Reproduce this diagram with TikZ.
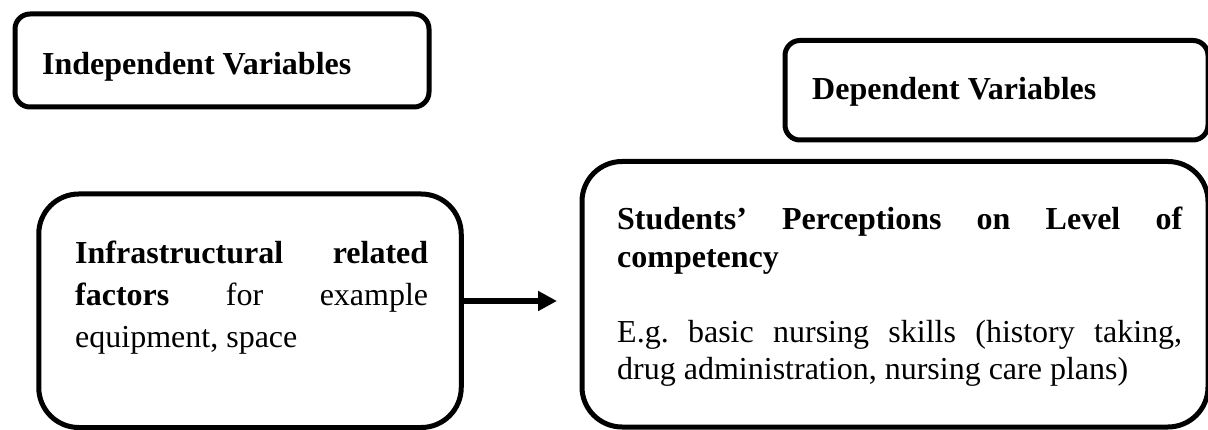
\documentclass[tikz,border=0pt]{standalone}
\usepackage{fontspec}
\setmainfont{Liberation Serif}
\usetikzlibrary{arrows.meta}
\tolerance=10000
\hyphenpenalty=10000
\frenchspacing

\tikzset{
  varbox/.style={draw, line width=5pt, rounded corners=15pt, inner sep=0pt},
  factbox/.style={draw, line width=5pt, rounded corners=40pt, inner sep=0pt},
  boxtext/.style={inner sep=0pt, anchor=base west, align=justify},
}

\begin{document}
\begin{tikzpicture}[x=1pt, y=-1pt, font=\fontsize{32}{42}\selectfont]
  \useasboundingbox (0,0) rectangle (1208,430);
  \clip (0,0) rectangle (1208,430);

  \node[varbox, minimum width=414pt, minimum height=93pt] (indep) at (222,60.5) {};
  \node[boxtext] (indeptxt) at (42,75) {\textbf{Independent Variables}};

  \node[varbox, minimum width=423pt, minimum height=99.5pt] (dep) at (996.5,90.25) {};
  \node[boxtext] (deptxt) at (812,100) {\textbf{Dependent Variables}};

  \node[factbox, minimum width=422.5pt, minimum height=233.5pt] (infra) at (250,310.75) {};
  \node[boxtext, text width=353pt] (infratxt) at (75,264)
    {\textbf{Infrastructural related\linebreak factors} for example\linebreak equipment, space};

  \node[factbox, minimum width=626pt, minimum height=265.5pt] (percep) at (895,294.25) {};
  \node[boxtext, text width=565pt, font=\fontsize{32}{37.5}\selectfont] (perceptxt) at (617,230)
    {\textbf{Students' Perceptions on Level of\linebreak competency}\par\vspace{37.5pt}%
     E.g. basic nursing skills (history taking,\linebreak drug administration, nursing care plans)};

  \coordinate (tip) at (557,301);
  \draw[-{Triangle[length=19pt, width=19pt]}, line width=6pt] (infra.east |- tip) -- (tip);
\end{tikzpicture}
\end{document}
